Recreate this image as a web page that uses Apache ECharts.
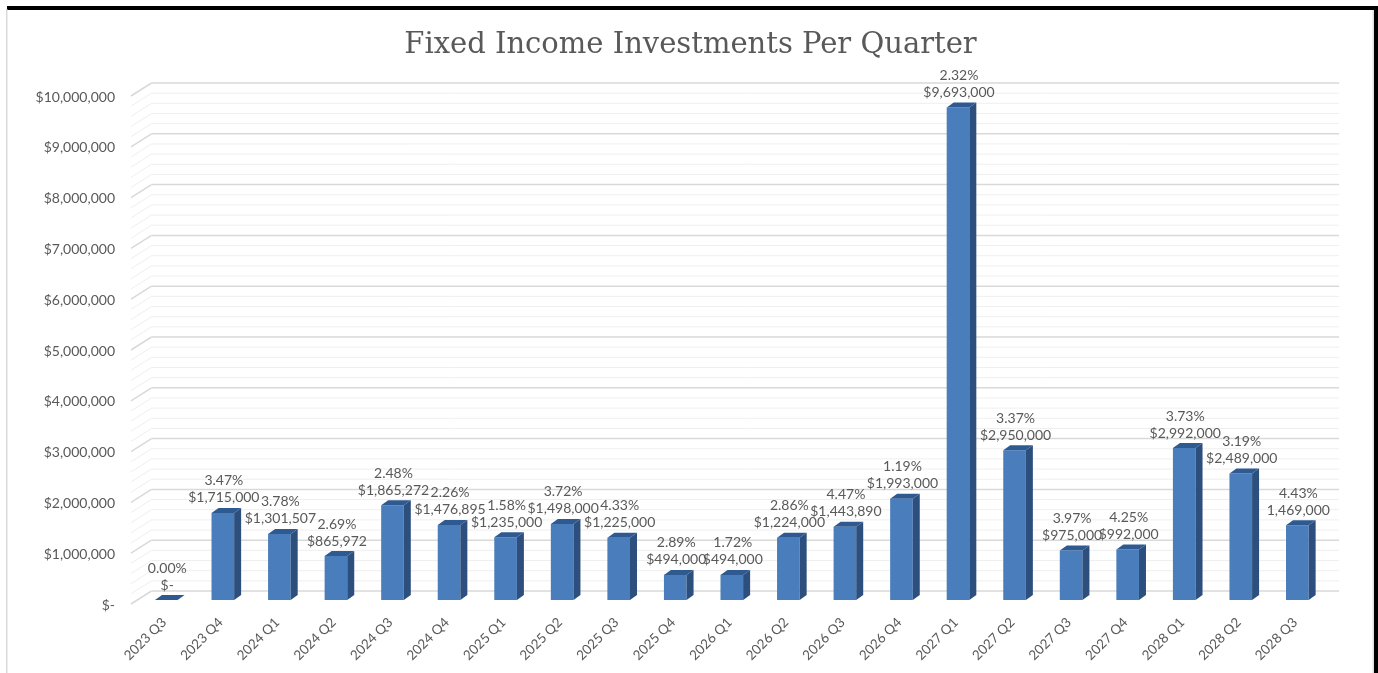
<!DOCTYPE html>
<html>
<head>
<meta charset="utf-8">
<style>html,body{margin:0;padding:0;background:#fff}#c{width:1378px;height:673px}</style>
<script src="https://cdn.jsdelivr.net/npm/echarts@6/dist/echarts.min.js"></script>
</head>
<body>
<div id="c"></div>
<script>
const categories = ['2023 Q3','2023 Q4','2024 Q1','2024 Q2','2024 Q3','2024 Q4','2025 Q1','2025 Q2','2025 Q3','2025 Q4','2026 Q1','2026 Q2','2026 Q3','2026 Q4','2027 Q1','2027 Q2','2027 Q3','2027 Q4','2028 Q1','2028 Q2','2028 Q3'];
const amounts = [0,1715000,1301507,865972,1865272,1476895,1235000,1498000,1225000,494000,494000,1224000,1443890,1993000,9693000,2950000,975000,992000,2992000,2489000,1469000];
const amountLabels = ['$-','$1,715,000','$1,301,507','$865,972','$1,865,272','$1,476,895','$1,235,000','$1,498,000','$1,225,000','$494,000','$494,000','$1,224,000','$1,443,890','$1,993,000','$9,693,000','$2,950,000','$975,000','$992,000','$2,992,000','$2,489,000','1,469,000'];
const rateLabels = ['0.00%','3.47%','3.78%','2.69%','2.48%','2.26%','1.58%','3.72%','4.33%','2.89%','1.72%','2.86%','4.47%','1.19%','2.32%','3.37%','3.97%','4.25%','3.73%','3.19%','4.43%'];
const gridLevels = [0,200000,400000,600000,800000,1000000,1200000,1400000,1600000,1800000,2000000,2200000,2400000,2600000,2800000,3000000,3200000,3400000,3600000,3800000,4000000,4200000,4400000,4600000,4800000,5000000,5200000,5400000,5600000,5800000,6000000,6200000,6400000,6600000,6800000,7000000,7200000,7400000,7600000,7800000,8000000,8200000,8400000,8600000,8800000,9000000,9200000,9400000,9600000,9800000,10000000];

const FONT = 'Lato';
const TEXT = '#595959';
const DX = 7, DY = 5;

function renderWall(params, api) {
  const level = api.value(0);
  const y = api.coord([0, level])[1];
  const cs = params.coordSys;
  const major = level % 1000000 === 0;
  const style = { stroke: major ? '#d9d9d9' : '#efefef', lineWidth: major ? 1.5 : 1, fill: null };
  const backX0 = cs.x + 13.5, backX1 = cs.x + cs.width + 13.5;
  return { type: 'group', children: [
    { type: 'line', shape: { x1: cs.x - 7, y1: y + 4, x2: backX0, y2: y - 9 }, style },
    { type: 'line', shape: { x1: backX0, y1: y - 9, x2: backX1, y2: y - 9 }, style }
  ]};
}

function renderBar(params, api) {
  const p = api.coord([api.value(0), api.value(1)]);
  const base = api.coord([api.value(0), 0]);
  const w = api.size([1, 0])[0] * 0.4;
  const x0 = p[0] - w / 2, x1 = p[0] + w / 2, yt = p[1], yb = base[1];
  return { type: 'group', children: [
    { type: 'rect', shape: { x: x0, y: yt, width: w, height: yb - yt }, style: { fill: '#4a7dbb' } },
    { type: 'polygon', shape: { points: [[x1, yt], [x1 + DX, yt - DY], [x1 + DX, yb - DY], [x1, yb]] }, style: { fill: '#2c4f7e' } },
    { type: 'polygon', shape: { points: [[x0, yt], [x0 + DX, yt - DY], [x1 + DX, yt - DY], [x1, yt]] }, style: { fill: '#2f5a91' } }
  ]};
}

function renderLabel(params, api) {
  const i = api.value(0);
  const p = api.coord([i, api.value(1)]);
  const s = { fill: TEXT, font: '14px ' + FONT, align: 'center', verticalAlign: 'middle' };
  return { type: 'group', children: [
    { type: 'text', x: p[0] + 1, y: p[1] - 15, style: Object.assign({ text: amountLabels[i] }, s) },
    { type: 'text', x: p[0] + 1, y: p[1] - 32, style: Object.assign({ text: rateLabels[i] }, s) }
  ]};
}

const barData = amounts.map((v, i) => [i, v]);
const chart = echarts.init(document.getElementById('c'), null, { renderer: 'canvas' });
chart.setOption({
  animation: false,
  backgroundColor: '#ffffff',
  title: {
    text: 'Fixed Income Investments Per Quarter',
    left: 685.5, top: 26, textAlign: 'center',
    textStyle: { fontFamily: 'DejaVu Serif', fontSize: 29, fontWeight: 'normal', color: TEXT }
  },
  grid: { left: 138, top: 92, width: 1187.6, height: 508, containLabel: false },
  xAxis: {
    type: 'category', data: categories,
    axisLine: { show: false }, axisTick: { show: false }, splitLine: { show: false },
    axisLabel: { rotate: 45, interval: 0, margin: 18, fontFamily: FONT, fontSize: 13.5, color: TEXT, padding: [0, 3, 0, 0] }
  },
  yAxis: {
    type: 'value', min: 0, max: 10000000, interval: 1000000,
    axisLine: { show: false }, axisTick: { show: false }, splitLine: { show: false },
    axisLabel: {
      margin: 23, fontFamily: FONT, fontSize: 14, color: TEXT, verticalAlign: 'top', lineHeight: 10,
      formatter: v => v === 0 ? '$-' : '$' + v.toLocaleString('en-US')
    }
  },
  series: [
    { type: 'custom', name: 'Walls', coordinateSystem: 'cartesian2d', clip: false, silent: true, z: 1,
      renderItem: renderWall, data: gridLevels.map(v => [v]), encode: { y: 0 } },
    { type: 'custom', name: 'Fixed Income Investments', coordinateSystem: 'cartesian2d', clip: false, z: 2,
      renderItem: renderBar, data: barData, encode: { x: 0, y: 1 } },
    { type: 'custom', name: 'Labels', coordinateSystem: 'cartesian2d', clip: false, silent: true, z: 3,
      renderItem: renderLabel, data: barData, encode: { x: 0, y: 1 } }
  ],
  graphic: [
    { type: 'rect', z: 10, shape: { x: 7, y: 6, width: 1371, height: 4 }, style: { fill: '#000' } },
    { type: 'rect', z: 10, shape: { x: 1374, y: 6, width: 4, height: 667 }, style: { fill: '#000' } },
    { type: 'rect', z: 10, shape: { x: 6, y: 9, width: 1.5, height: 664 }, style: { fill: '#d9d9d9' } },
    { type: 'rect', z: 10, shape: { x: 1372.5, y: 10, width: 1.5, height: 663 }, style: { fill: '#e0e0e0' } }
  ]
});
</script>
</body>
</html>
